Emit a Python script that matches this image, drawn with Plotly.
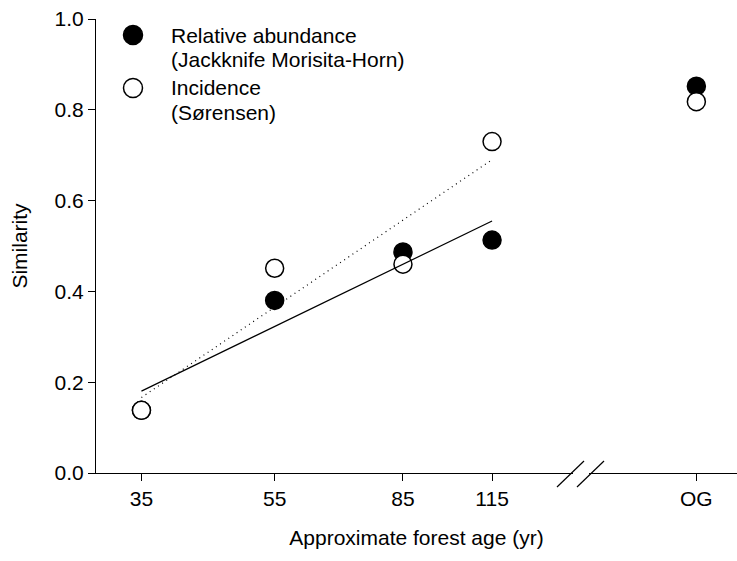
import numpy as np
import plotly.graph_objects as go

# Stand ages (yr) of the second-growth sites and the old-growth reference
ages = [35, 55, 85, 115]
og_label = "OG"
OG_POSITION = 230  # where the old-growth column sits on the (broken) age axis

# Similarity to old-growth assemblages
abundance_sim = [0.138, 0.38, 0.487, 0.513]   # Jackknife Morisita-Horn
incidence_sim = [0.138, 0.451, 0.46, 0.73]    # Sørensen
abundance_og = 0.852
incidence_og = 0.818

y_ticks = [0.0, 0.2, 0.4, 0.6, 0.8, 1.0]

FONT = "Arial, 'Liberation Sans', sans-serif"
FS = 21

# plot-area geometry (px)
W, H = 737, 561
L, R, T, B = 96, 0, 19, 88
PW, PH = W - L - R, H - T - B


def px_x(p):
    return (p - L) / PW


def px_y(p):
    return (H - B - p) / PH


def log_fit(x, y):
    """Least-squares line of similarity against ln(age), evaluated at the end ages."""
    slope, icpt = np.polyfit(np.log(x), y, 1)
    xe = np.array([min(x), max(x)], dtype=float)
    return xe, icpt + slope * np.log(xe)


x_all = ages + [OG_POSITION]
fig = go.Figure()

marker_sz = 18
fig.add_trace(go.Scatter(
    x=x_all, y=abundance_sim + [abundance_og], mode="markers",
    marker=dict(size=marker_sz, color="black", line=dict(color="black", width=1.5)),
    name="Relative abundance", showlegend=False))
fig.add_trace(go.Scatter(
    x=x_all, y=incidence_sim + [incidence_og], mode="markers",
    marker=dict(size=marker_sz, color="white", line=dict(color="black", width=1.5)),
    name="Incidence", showlegend=False))

xa, ya = log_fit(ages, abundance_sim)
fig.add_trace(go.Scatter(x=xa, y=ya, mode="lines",
                         line=dict(color="black", width=1.2), showlegend=False))
xi, yi = log_fit(ages, incidence_sim)
fig.add_trace(go.Scatter(x=xi, y=yi, mode="lines",
                         line=dict(color="black", width=1.2, dash="1px,4px"), showlegend=False))

shapes = []
# axis break on the age axis
shapes.append(dict(type="line", xref="paper", yref="paper",
                   x0=px_x(573), x1=px_x(589), y0=0, y1=0,
                   line=dict(color="white", width=3), layer="above"))
for x0, x1 in [(557, 584), (577, 604)]:
    shapes.append(dict(type="line", xref="paper", yref="paper",
                       x0=px_x(x0), x1=px_x(x1), y0=px_y(487), y1=px_y(461),
                       line=dict(color="black", width=1.2), layer="above"))

# legend
legend_items = [
    ("black", 35, ["Relative abundance", "(Jackknife Morisita-Horn)"]),
    ("white", 88, ["Incidence", "(Sørensen)"]),
]
annotations = []
for fill, yc, lines in legend_items:
    shapes.append(dict(type="circle", xref="paper", yref="paper",
                       xsizemode="pixel", ysizemode="pixel",
                       xanchor=px_x(133), yanchor=px_y(yc),
                       x0=-9.5, x1=9.5, y0=-9.5, y1=9.5,
                       fillcolor=fill, line=dict(color="black", width=1.5)))
    for k, txt in enumerate(lines):
        annotations.append(dict(xref="paper", yref="paper", x=px_x(169), y=px_y(yc + k * 24),
                                text=txt, showarrow=False, xanchor="left", yanchor="middle",
                                font=dict(family=FONT, size=FS, color="black")))

fig.update_layout(
    width=W, height=H,
    margin=dict(l=L, r=R, t=T, b=B, pad=0),
    paper_bgcolor="white", plot_bgcolor="white",
    font=dict(family=FONT, size=FS, color="black"),
    shapes=shapes, annotations=annotations, showlegend=False,
)
fig.update_xaxes(
    type="log", range=[np.log10(30), np.log10(264)],
    tickvals=x_all, ticktext=[str(a) for a in ages] + [og_label],
    ticks="outside", ticklen=7, tickwidth=1, tickcolor="black",
    tickfont=dict(family=FONT, size=FS),
    showline=True, linecolor="black", linewidth=1, showgrid=False, zeroline=False,
    title=dict(text="Approximate forest age (yr)", standoff=21,
               font=dict(family=FONT, size=FS)),
)
fig.update_yaxes(
    range=[0, 1.0], tickvals=y_ticks, tickformat=".1f",
    ticks="outside", ticklen=7, tickwidth=1, tickcolor="black",
    tickfont=dict(family=FONT, size=FS),
    showline=True, linecolor="black", linewidth=1, showgrid=False, zeroline=False,
    title=dict(text="Similarity", standoff=21, font=dict(family=FONT, size=FS)),
)

fig.write_html("out.html")
